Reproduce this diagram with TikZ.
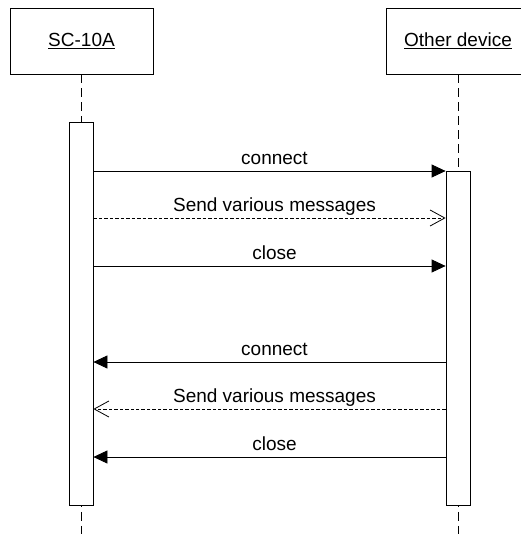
\documentclass[tikz,border=0pt]{standalone}
\usepackage{fontspec}
\setmainfont{Liberation Sans}
\usetikzlibrary{arrows.meta,positioning}

\begin{document}
\begin{tikzpicture}[x=0.75pt, y=-0.75pt,
        head/.style={rectangle, draw, line width=0.6pt, minimum width=107.25pt, minimum height=49.5pt, font=\fontsize{14.25}{17}\selectfont},
        actbar/.style={rectangle, draw, fill=white, line width=0.6pt, minimum width=18pt, anchor=north, inner sep=0pt},
        lifeline/.style={line width=0.6pt, dash pattern=on 6.75pt off 3.75pt},
        msg/.style={-{Triangle[length=10.5pt,width=9.75pt]}, line width=0.6pt},
        reply/.style={-{Straight Barb[length=11pt,width=12pt]}, line width=0.6pt, dash pattern=on 2.6pt off 1.5pt},
        msgtext/.style={anchor=base, inner sep=0pt, yshift=5pt, xshift=3.75pt, font=\fontsize{14.25}{17}\selectfont}
    ]
        \useasboundingbox (0,0) rectangle (520,534);

        % Heads
        \node[head] (sc) at (81.5,41) {\underline{SC-10A}};
        \node[head] (od) at (458,41) {\underline{Other device}};

        % Lifelines
        \coordinate (scend) at (81,534);
        \coordinate (odend) at (458,534);
        \node[actbar, minimum height=287.25pt] (scbar) at (81,122) {};
        \node[actbar, minimum height=250.5pt] (odbar) at (458,171) {};
        \draw[lifeline] (sc.south -| scbar.north) -- (scbar.north);
        \draw[lifeline, dash phase=-4.5pt] (scbar.south) -- (scend);
        \draw[lifeline] (od.south -| odbar.north) -- (odbar.north);
        \draw[lifeline, dash phase=-4.5pt] (odbar.south) -- (odend);
        \node[actbar, minimum height=287.25pt] at (81,122) {};
        \node[actbar, minimum height=250.5pt] at (458,171) {};

        % SC-10A to other device
        \coordinate (m1) at (0,171);
        \coordinate (m2) at (0,218);
        \coordinate (m3) at (0,266);
        \draw[msg] (scbar.east |- m1) -- node[msgtext] {connect} (odbar.west |- m1);
        \draw[reply] (scbar.east |- m2) -- node[msgtext] {Send various messages} (odbar.west |- m2);
        \draw[msg] (scbar.east |- m3) -- node[msgtext] {close} (odbar.west |- m3);

        % Other device to SC-10A
        \coordinate (m4) at (0,362);
        \coordinate (m5) at (0,409);
        \coordinate (m6) at (0,457);
        \draw[msg] (odbar.west |- m4) -- node[msgtext] {connect} (scbar.east |- m4);
        \draw[reply] (odbar.west |- m5) -- node[msgtext] {Send various messages} (scbar.east |- m5);
        \draw[msg] (odbar.west |- m6) -- node[msgtext] {close} (scbar.east |- m6);
    \end{tikzpicture}
\end{document}
